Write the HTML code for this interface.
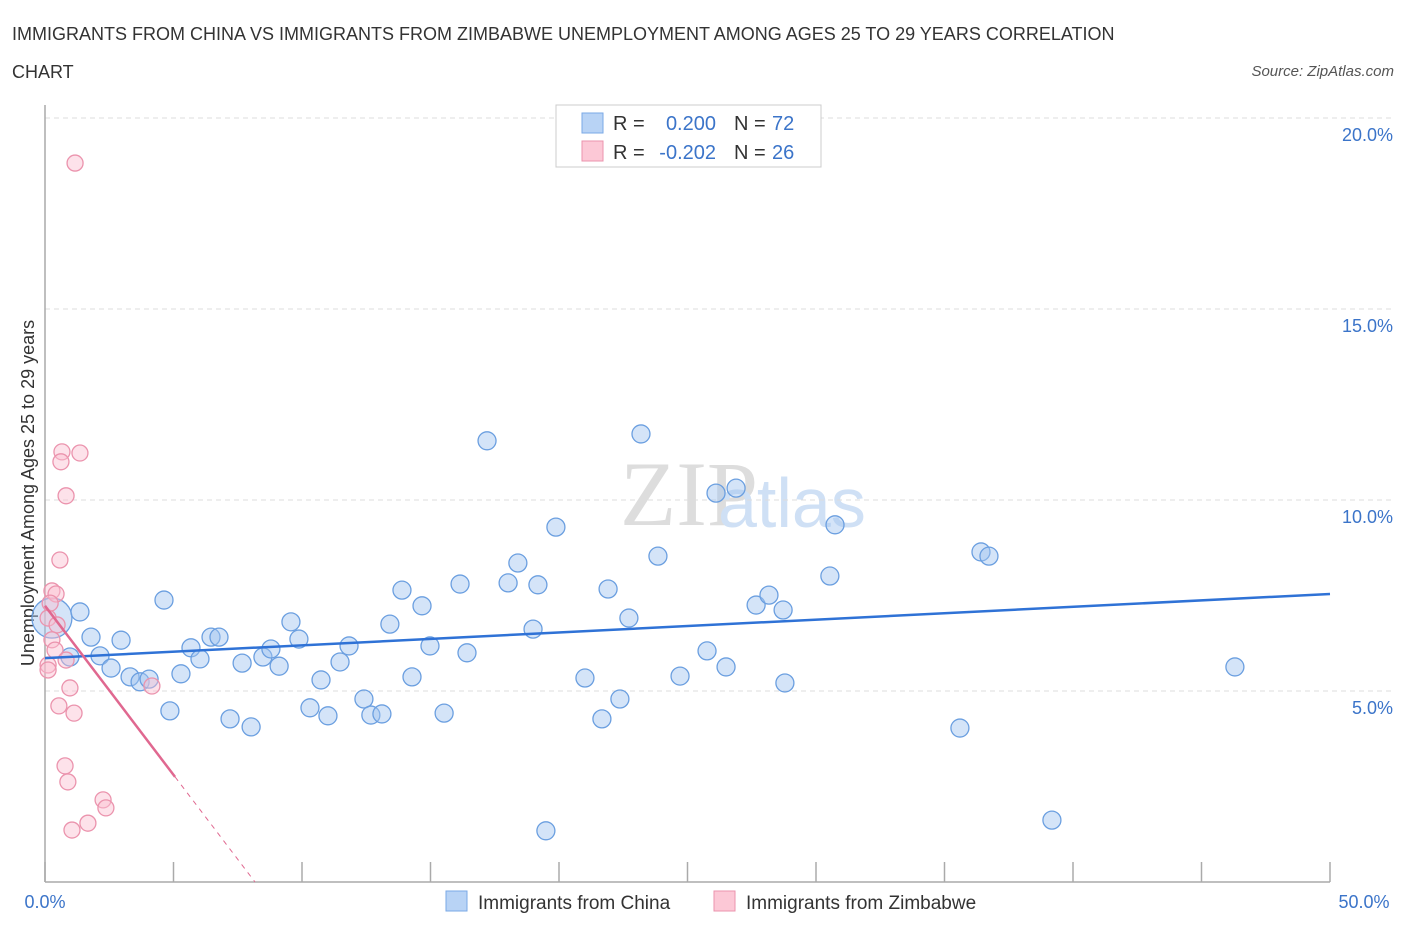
<!DOCTYPE html>
<html><head><meta charset="utf-8"><style>
body{margin:0;background:#fff;font-family:"Liberation Sans",sans-serif;}
svg{display:block}
</style></head><body>
<svg width="1406" height="930" xmlns="http://www.w3.org/2000/svg">
<text x="12" y="40" font-size="18" fill="#333">IMMIGRANTS FROM CHINA VS IMMIGRANTS FROM ZIMBABWE UNEMPLOYMENT AMONG AGES 25 TO 29 YEARS CORRELATION</text>
<text x="12" y="78" font-size="18" fill="#333">CHART</text>
<text x="1394" y="76" font-size="15" fill="#555" font-style="italic" text-anchor="end">Source: ZipAtlas.com</text>
<text x="620" y="525" font-size="92" fill="#ddd" font-family="Liberation Serif">ZIP</text>
<text x="718" y="527" font-size="70" fill="#cfe0f5">atlas</text>
<g id="grid"></g>
<line x1="45" y1="105" x2="45" y2="882" stroke="#aaa" stroke-width="1.5"/>
<line x1="45" y1="882" x2="1330" y2="882" stroke="#aaa" stroke-width="1.5"/>
<g id="xticks"></g>
<text transform="translate(34,493) rotate(-90)" font-size="18" fill="#333" text-anchor="middle">Unemployment Among Ages 25 to 29 years</text>
<text x="45" y="908" font-size="18" fill="#3b74c9" text-anchor="middle">0.0%</text>
<text x="1364" y="908" font-size="18" fill="#3b74c9" text-anchor="middle">50.0%</text>
<g id="pts"></g>
<g id="lines"></g>
<g>
<rect x="556" y="105" width="265" height="62" fill="#fff" stroke="#ccc"/>
<rect x="582" y="113" width="21" height="20" fill="#b8d3f5" stroke="#7aa8e6"/>
<rect x="582" y="141" width="21" height="20" fill="#fcc8d6" stroke="#eb93ad"/>
<text x="613" y="130" font-size="20" fill="#333">R =</text>
<text x="716" y="130" font-size="20" fill="#3b74c9" text-anchor="end">0.200</text>
<text x="734" y="130" font-size="20" fill="#333">N =</text>
<text x="772" y="130" font-size="20" fill="#3b74c9">72</text>
<text x="613" y="159" font-size="20" fill="#333">R =</text>
<text x="716" y="159" font-size="20" fill="#3b74c9" text-anchor="end">-0.202</text>
<text x="734" y="159" font-size="20" fill="#333">N =</text>
<text x="772" y="159" font-size="20" fill="#3b74c9">26</text>
</g>
<g>
<rect x="446" y="891" width="21" height="20" fill="#b8d3f5" stroke="#7aa8e6"/>
<text x="478" y="909" font-size="19" fill="#333">Immigrants from China</text>
<rect x="714" y="891" width="21" height="20" fill="#fcc8d6" stroke="#eb93ad"/>
<text x="746" y="909" font-size="19" fill="#333">Immigrants from Zimbabwe</text>
</g>
</svg>
<script>
const chinaX=[0.27,1.36,1.79,2.96,2.14,0.97,2.57,3.31,3.70,4.05,4.63,4.86,5.29,5.68,6.03,6.46,6.77,7.20,7.67,8.02,8.48,8.79,9.11,9.57,9.88,10.31,10.74,11.01,11.48,11.83,12.41,12.68,13.11,13.42,13.89,14.28,14.67,14.98,15.53,16.15,16.42,17.20,18.02,18.40,18.99,19.18,19.49,19.88,21.01,21.67,21.91,22.37,22.72,23.19,23.85,24.71,25.76,26.11,26.50,26.89,27.67,28.17,28.72,28.79,30.54,30.74,35.60,36.42,36.73,39.18,46.30];
const chinaY=[6.91,7.07,6.41,6.33,5.92,5.89,5.60,5.37,5.24,5.31,7.38,4.48,5.45,6.13,5.84,6.41,6.41,4.27,5.73,4.06,5.89,6.10,5.65,6.81,6.36,4.56,5.29,4.35,5.76,6.18,4.79,4.37,4.40,6.75,7.64,5.37,7.23,6.18,4.42,7.80,6.00,11.55,7.83,8.35,6.62,7.78,1.34,9.29,5.34,4.27,7.67,4.79,6.91,11.73,8.53,5.39,6.05,10.18,5.63,10.31,7.25,7.51,7.12,5.21,8.01,9.35,4.03,8.64,8.53,1.62,5.63];
const zimX=[1.17,0.66,1.36,0.62,0.82,0.58,0.27,0.43,0.12,0.47,0.27,0.39,0.12,0.82,0.12,0.97,0.54,1.13,0.78,0.89,2.26,2.37,1.05,1.67,4.16,0.20];
const zimY=[18.82,11.26,11.23,11.00,10.11,8.43,7.62,7.54,6.91,6.73,6.34,6.07,5.68,5.81,5.55,5.08,4.61,4.42,3.04,2.62,2.15,1.94,1.36,1.54,5.13,7.30];
const yTicks=[5,10,15,20];
const yTickLabels=["5.0%","10.0%","15.0%","20.0%"];
const xTicks=[0,5,10,15,20,25,30,35,40,45,50];
const chinaTrend=[5.86,7.54];
const zimTrend=[7.23,0,5.06];
const NS="http://www.w3.org/2000/svg";
const sx=v=>45+v/50*1285, sy=v=>882-v/5*191;
function mk(t,a,p){const e=document.createElementNS(NS,t);for(const k in a)e.setAttribute(k,a[k]);p.appendChild(e);return e;}
const grid=document.getElementById('grid');
yTicks.forEach((v,i)=>{
 const l=mk('line',{x1:45,x2:1395,y1:sy(v),y2:sy(v),stroke:'#ddd','stroke-dasharray':'5,4'},grid);
 
 
 const t=mk('text',{x:1393,y:sy(v)+23,'font-size':18,fill:'#3b74c9','text-anchor':'end'},grid);
 t.textContent=yTickLabels[i];
 
 
});
const xt=document.getElementById('xticks');
xTicks.forEach(v=>{
 const l=mk('line',{x1:sx(v),x2:sx(v),y1:862,y2:882,stroke:'#aaa','stroke-width':1.5},xt);
 
 
});
const pts=document.getElementById('pts');
chinaX.forEach((x,i)=>{
 const c=mk('circle',{cx:sx(x),cy:sy(chinaY[i]),r:i===0?20:9,fill:'rgba(160,196,240,0.45)',stroke:'#6b9fe0','stroke-width':1.3},pts);
 
 
});
zimX.forEach((x,i)=>{
 const c=mk('circle',{cx:sx(x),cy:sy(zimY[i]),r:8,fill:'rgba(250,190,208,0.45)',stroke:'#eb93ad','stroke-width':1.3},pts);
 
 
});
const lg=document.getElementById('lines');
const b=mk('line',{x1:sx(0),y1:sy(chinaTrend[0]),x2:sx(50),y2:sy(chinaTrend[1]),stroke:'#2f72d6','stroke-width':2.5},lg);


const zslope=(zimTrend[1]-zimTrend[0]);
const zx0=8.17, ze=zimTrend[2];
const zyAt=x=>zimTrend[0]+(zimTrend[1]-zimTrend[0])*x/zx0;
const p1=mk('line',{x1:sx(0),y1:sy(zyAt(0)),x2:sx(ze),y2:sy(zyAt(ze)),stroke:'#e06890','stroke-width':2.5},lg);


const p2=mk('line',{x1:sx(ze),y1:sy(zyAt(ze)),x2:sx(zx0),y2:sy(zyAt(zx0)),stroke:'#e06890','stroke-width':1,'stroke-dasharray':'5,5'},lg);


</script>
</body></html>
